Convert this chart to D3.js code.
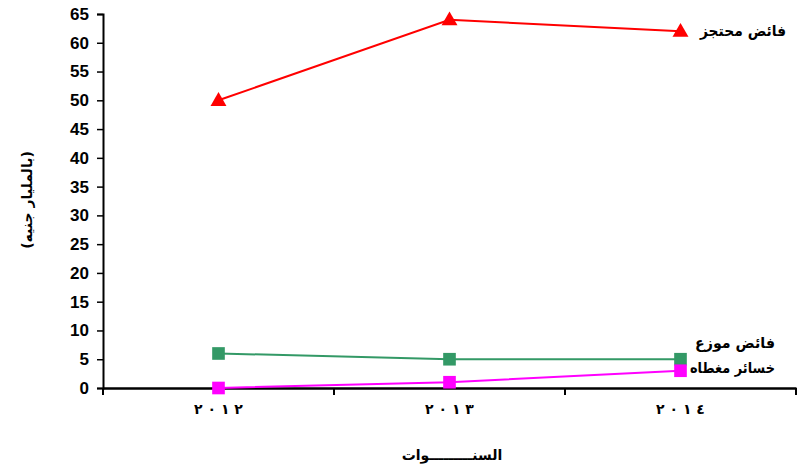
<!DOCTYPE html>
<html><head><meta charset="utf-8">
<script src="https://cdn.jsdelivr.net/npm/d3@7"></script>
<style>body{margin:0;background:#fff}svg{display:block}</style>
</head><body>
<svg id="c" width="798" height="470"></svg>
<script>
const years = ["2012","2013","2014"];
const yearLabels = ["٢٠١٢","٢٠١٣","٢٠١٤"];
const retained = [50, 64, 62];      // فائض محتجز
const distributed = [6, 5, 5];      // فائض موزع
const covered = [0, 1, 3];          // خسائر مغطاه
const yTicks = [0,5,10,15,20,25,30,35,40,45,50,55,60,65];

const svg = d3.select("#c");
const L = 103, R = 796, T = 14, B = 388;
const x = d3.scaleBand().domain(years).range([L, R]);
const y = d3.scaleLinear().domain([0, 65]).range([B, T]);

// y axis
const ya = svg.append("g").attr("transform", `translate(${L},0)`)
  .call(d3.axisLeft(y).tickValues(yTicks).tickSize(6).tickPadding(8).tickFormat(d3.format("d")));
ya.selectAll("text").attr("font-family","Liberation Sans, Arial, sans-serif").attr("font-weight","bold").attr("font-size",17).attr("fill","#000");
ya.select(".domain").attr("stroke","#000").attr("stroke-width",2);
ya.selectAll(".tick line").attr("stroke","#000").attr("stroke-width",1.5);

// x axis
const xa = svg.append("g").attr("transform", `translate(0,${B})`)
  .call(d3.axisBottom(x).tickSize(0).tickPadding(16).tickFormat((d,i)=>yearLabels[i].split("").join("\u200E \u200E")));
xa.select(".domain").attr("stroke","#000").attr("stroke-width",2.5);
xa.selectAll("text").attr("font-family","DejaVu Sans, sans-serif").attr("font-weight","bold").attr("font-size",14)
  .attr("fill","#000").style("white-space","pre");
// boundary ticks between categories
const bounds = years.map(d => x(d)).concat([x(years[years.length-1]) + x.bandwidth()]);
svg.append("g").selectAll("line").data(bounds).join("line")
  .attr("x1", d=>d).attr("x2", d=>d).attr("y1", B).attr("y2", B+7)
  .attr("stroke","#000").attr("stroke-width",2);

const cx = d => x(d) + x.bandwidth()/2;
const line = d3.line().x((v,i)=>cx(years[i])).y(v=>y(v));

const series = [
  {vals: retained, color:"#ff0000", shape:"tri", label:"فائض محتجز", lx: 786, ly: 31, w: 86},
  {vals: distributed, color:"#339966", shape:"sq", label:"فائض موزع", lx: 775, ly: 343, w: 80},
  {vals: covered, color:"#ff00ff", shape:"sq", label:"خسائر مغطاه", lx: 775, ly: 368, w: 85}
];
series.forEach(s => {
  svg.append("path").attr("d", line(s.vals)).attr("fill","none").attr("stroke", s.color).attr("stroke-width",2);
  const sym = s.shape === "tri" ? d3.symbol(d3.symbolTriangle, 110) : d3.symbol(d3.symbolSquare, 160);
  svg.append("g").selectAll("path").data(s.vals).join("path")
    .attr("d", sym).attr("fill", s.color)
    .attr("transform", (v,i)=>`translate(${cx(years[i])},${y(v) + (s.shape==="tri"?1:0)})`);
  svg.append("text").attr("x", s.lx).attr("y", s.ly).attr("text-anchor","end")
    .attr("font-family","DejaVu Sans, sans-serif").attr("font-weight","bold")
    .attr("font-size",15).attr("dominant-baseline","middle")
    .attr("textLength", s.w).attr("lengthAdjust","spacingAndGlyphs").text(s.label);
});

// axis titles
svg.append("text").attr("transform","translate(28,200) rotate(-90)").attr("text-anchor","middle")
  .attr("font-family","DejaVu Sans, sans-serif").attr("font-weight","bold").attr("font-size",14)
  .attr("dominant-baseline","middle").text("(بالمليار جنيه)");
svg.append("text").attr("x", 452).attr("y", 456).attr("text-anchor","middle")
  .attr("font-family","DejaVu Sans, sans-serif").attr("font-weight","bold").attr("font-size",14)
  .attr("dominant-baseline","middle").text("السنـــــــــوات");
</script>
</body></html>
